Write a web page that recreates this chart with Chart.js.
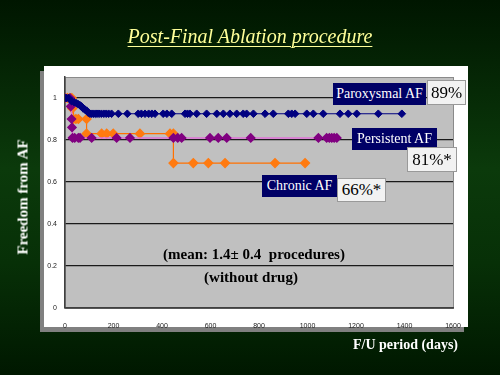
<!DOCTYPE html>
<html>
<head>
<meta charset="utf-8">
<script src="https://cdn.jsdelivr.net/npm/chart.js@4"></script>
<style>
    html, body { margin: 0; padding: 0; }
    body {
        width: 500px; height: 375px; overflow: hidden; position: relative;
        background: linear-gradient(180deg, #001600 0%, #0b3a0b 45%, #073007 70%, #001800 100%);
        font-family: "Liberation Serif", "DejaVu Serif", serif;
    }
    .frame { position: absolute; left: 44px; top: 66px; width: 424px; height: 261px; background: #fff; box-shadow: -4px 5px 0 #808080; }
    #chart { position: absolute; left: 0; top: 0; }
    .title { position: absolute; left: 0; width: 500px; top: 25px; text-align: center; color: #ffff99; font-family: "Liberation Serif", serif; font-style: italic; font-size: 20px; text-decoration: underline; text-underline-offset: 3px; text-decoration-thickness: 1px; }
    .ytitle { position: absolute; left: 23px; top: 197px; transform: translate(-50%, -50%) rotate(-90deg); color: #fff; font-family: "Liberation Serif", serif; font-weight: bold; font-size: 15px; white-space: nowrap; }
    .xtitle { position: absolute; left: 353px; top: 337px; color: #fff; font-family: "Liberation Serif", serif; font-weight: bold; font-size: 14px; white-space: nowrap; }
    .note { position: absolute; color: #000; font-family: "Liberation Serif", serif; font-weight: bold; font-size: 15px; white-space: nowrap; transform: translateX(-50%); }
    .lab { position: absolute; background: #000066; color: #fff; font-family: "Liberation Serif", serif; font-size: 14px; line-height: 22px; text-align: center; }
    .pct { position: absolute; background: #f2f2f2; border: 1px solid #999; color: #000; font-family: "Liberation Serif", serif; font-size: 17px; text-align: center; box-sizing: border-box; }
</style>
</head>
<body>
<div class="frame"></div>
<canvas id="chart" width="500" height="375"></canvas>
<div class="title">Post-Final Ablation procedure</div>
<div class="ytitle">Freedom from AF</div>
<div class="xtitle">F/U period (days)</div>
<div class="note" style="left:254px; top:246px;">(mean: 1.4± 0.4&nbsp; procedures)</div>
<div class="note" style="left:251px; top:269px;">(without drug)</div>
<div class="lab" style="left:333px; top:83px; width:93px;">Paroxysmal AF</div>
<div class="pct" style="left:427px; top:80px; width:39px; height:25px; line-height:23px;">89%</div>
<div class="lab" style="left:352px; top:128px; width:85px;">Persistent AF</div>
<div class="pct" style="left:407px; top:147px; width:50px; height:25px; line-height:23px;">81%*</div>
<div class="lab" style="left:262px; top:175px; width:75px;">Chronic AF</div>
<div class="pct" style="left:337px; top:178px; width:49px; height:24px; line-height:22px;">66%*</div>
<script>
const xTicks = [0, 200, 400, 600, 800, 1000, 1200, 1400, 1600];
const yTicks = [0, 0.2, 0.4, 0.6, 0.8, 1];

const paroxDays = [0, 7, 15, 27, 38, 48, 55, 62, 68, 75, 82, 89, 96, 103, 110, 117, 125, 132, 140, 150, 160, 170, 180, 192, 220, 257, 302, 315, 330, 345, 358, 371, 405, 420, 440, 495, 505, 515, 543, 584, 626, 653, 680, 708, 735, 749, 777, 825, 859, 921, 935, 949, 997, 1024, 1065, 1134, 1168, 1203, 1292, 1389];
const paroxFree = [1, 1, 1, 0.985, 0.98, 0.975, 0.97, 0.965, 0.96, 0.95, 0.945, 0.94, 0.93, 0.925, 0.925, 0.925, 0.925, 0.925, 0.925, 0.925, 0.925, 0.925, 0.925, 0.925, 0.925, 0.925, 0.925, 0.925, 0.925, 0.925, 0.925, 0.925, 0.925, 0.925, 0.925, 0.925, 0.925, 0.925, 0.925, 0.925, 0.925, 0.925, 0.925, 0.925, 0.925, 0.925, 0.925, 0.925, 0.925, 0.925, 0.925, 0.925, 0.925, 0.925, 0.925, 0.925, 0.925, 0.925, 0.925, 0.925];

const persDays = [0, 21, 24, 27, 29, 31, 40, 55, 62, 110, 213, 268, 447, 465, 481, 598, 632, 667, 766, 1045, 1079, 1090, 1100, 1110, 1121];
const persFree = [1, 1, 0.96, 0.9, 0.86, 0.81, 0.81, 0.81, 0.81, 0.81, 0.81, 0.81, 0.81, 0.81, 0.81, 0.81, 0.81, 0.81, 0.81, 0.81, 0.81, 0.81, 0.81, 0.81, 0.81];

const chronDays = [0, 10, 20, 28, 30, 35, 45, 55, 89, 89, 151, 172, 199, 309, 433, 447, 447, 529, 591, 660, 866, 990];
const chronFree = [1, 1, 1, 1, 0.95, 0.9, 0.9, 0.9, 0.9, 0.83, 0.83, 0.83, 0.83, 0.83, 0.83, 0.83, 0.69, 0.69, 0.69, 0.69, 0.69, 0.69];

function pts(xs, ys) {
    return xs.map((x, i) => ({ x: x, y: ys[i] }));
}

// gray plot area like the old spreadsheet chart
const plotBg = {
    id: 'plotBg',
    beforeDraw(chart) {
        const a = chart.chartArea;
        const ctx = chart.ctx;
        ctx.save();
        ctx.fillStyle = '#c0c0c0';
        ctx.fillRect(a.left, a.top, a.right - a.left, a.bottom - a.top);
        ctx.strokeStyle = '#8a8a8a';
        ctx.lineWidth = 1;
        ctx.strokeRect(a.left + 0.5, a.top + 0.5, a.right - a.left, a.bottom - a.top);
        ctx.restore();
    }
};

new Chart(document.getElementById('chart').getContext('2d'), {
    type: 'line',
    data: {
        datasets: [
            {
                label: 'Paroxysmal AF',
                data: pts(paroxDays, paroxFree),
                borderColor: '#000080',
                backgroundColor: '#000080',
                borderWidth: 1,
                pointStyle: 'rectRot',
                pointRadius: 3.8,
                stepped: true
            },
            {
                label: 'Persistent AF',
                data: pts(persDays, persFree),
                borderColor: '#e070d8',
                backgroundColor: '#800080',
                pointBorderColor: '#800080',
                borderWidth: 1.5,
                pointStyle: 'rectRot',
                pointRadius: 4,
                stepped: true
            },
            {
                label: 'Chronic AF',
                data: pts(chronDays, chronFree),
                borderColor: '#ff7000',
                backgroundColor: '#ff7a10',
                pointBorderColor: '#ff7a10',
                borderWidth: 1.2,
                pointStyle: 'rectRot',
                pointRadius: 4.5,
                stepped: true
            }
        ]
    },
    options: {
        responsive: false,
        animation: false,
        layout: { padding: { left: 40, right: 47, top: 77, bottom: 47 } },
        plugins: { legend: { display: false }, tooltip: { enabled: false } },
        scales: {
            x: {
                type: 'linear',
                min: 0,
                max: 1600,
                afterBuildTicks: s => { s.ticks = xTicks.map(v => ({ value: v })); },
                afterFit: s => { s.height = 20; },
                grid: { display: false },
                border: { color: '#404040', width: 1.5 },
                ticks: { color: '#222', font: { family: 'Liberation Sans', size: 7 }, padding: 6, maxRotation: 0, callback: v => String(v) }
            },
            y: {
                min: 0,
                max: 1.1,
                afterBuildTicks: s => { s.ticks = yTicks.map(v => ({ value: v })); },
                afterFit: s => { s.width = 25; },
                grid: { color: '#1a1a1a', lineWidth: 1.2, drawTicks: false },
                border: { color: '#404040', width: 1.5 },
                ticks: { color: '#222', font: { family: 'Liberation Sans', size: 7 }, padding: 8, callback: v => String(v) }
            }
        }
    },
    plugins: [plotBg]
});
</script>
</body>
</html>
